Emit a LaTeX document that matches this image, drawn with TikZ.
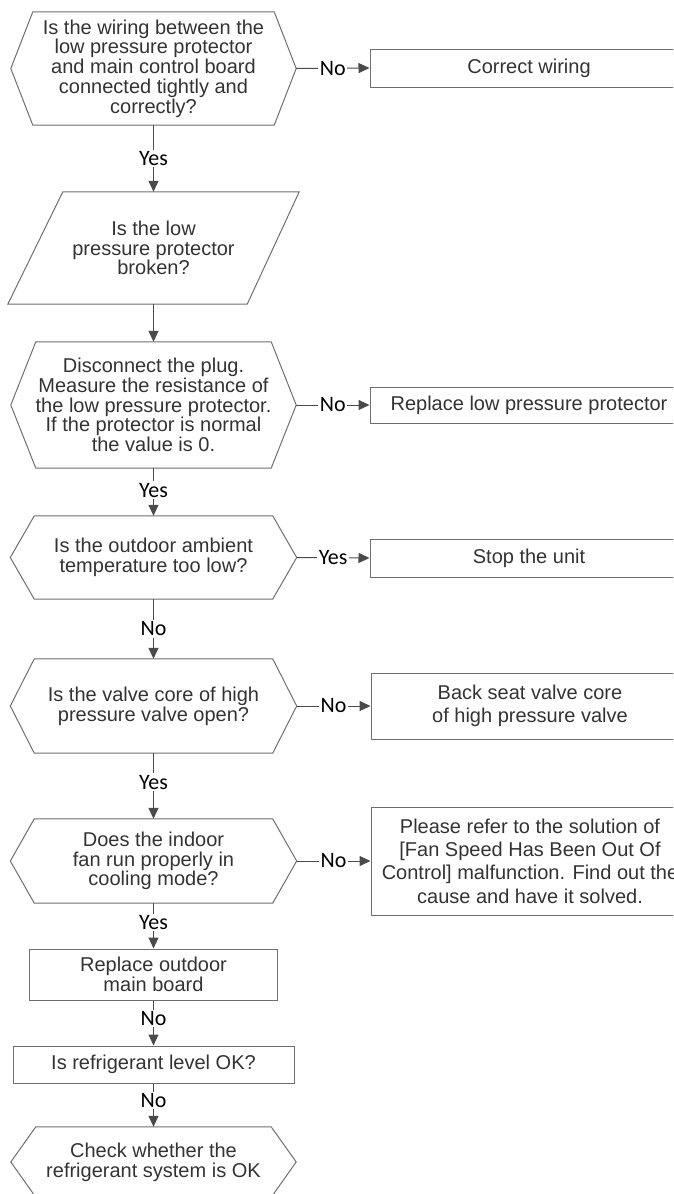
\documentclass[tikz,border=0pt]{standalone}
\usepackage{fontspec}
\setmainfont{Liberation Sans}
\newfontfamily\lblfont{Carlito}
\usepackage{tikz}
\usetikzlibrary{arrows.meta,positioning,calc}
\definecolor{fcline}{HTML}{6F6F6F}
\definecolor{fcarrow}{HTML}{4A4A4A}
\definecolor{fctext}{HTML}{333333}
\newcommand{\hexframe}[2]{%
  \draw[shapeline] (#1.west) -- ($(#1.north west)+(#2,0)$) -- ($(#1.north east)-(#2,0)$)
    -- (#1.east) -- ($(#1.south east)-(#2,0)$) -- ($(#1.south west)+(#2,0)$) -- cycle;}

\begin{document}
\begin{tikzpicture}[
  x=1pt,
  y=-1pt,
  qtext/.style={inner sep=0pt, align=center, text=fctext, font=\fontsize{20}{19.7}\selectfont},
  action/.style={qtext, draw=fcline, line width=1pt, minimum width=318pt,
    font=\fontsize{20}{23.3}\selectfont},
  shapeline/.style={draw=fcline, line width=1pt},
  arrow/.style={-{Triangle[length=11pt,width=10pt]}, line width=1pt, draw=fcarrow},
  lbl/.style={fill=white, inner sep=1.5pt, text=black, font=\lblfont\fontsize{22}{22}\selectfont}
]
\useasboundingbox (0,0) rectangle (673,1194);
\clip (0,0) rectangle (673,1194);

\node[qtext, minimum width=285pt, minimum height=113pt] (wiring) at (153.5,68.5)
  {Is the wiring between the\\low pressure protector\\and main control board\\connected tightly and\\correctly?};
\node[qtext, minimum width=291pt, minimum height=112pt] (broken) at (153.5,248)
  {Is the low\\pressure protector\\broken?};
\node[qtext, minimum width=285pt, minimum height=126pt] (measure) at (153.5,405)
  {Disconnect the plug.\\Measure the resistance of\\the low pressure protector.\\If the protector is normal\\the value is 0.};
\node[qtext, minimum width=286pt, minimum height=83pt] (ambient) at (153.5,557.5)
  {Is the outdoor ambient\\temperature too low?};
\node[qtext, minimum width=286pt, minimum height=94pt] (valve) at (153.5,706)
  {Is the valve core of high\\pressure valve open?};
\node[qtext, minimum width=286pt, minimum height=84pt] (indoorfan) at (153.5,861)
  {Does the indoor\\fan run properly in\\cooling mode?};
\node[qtext, draw=fcline, line width=1pt, minimum width=248pt, minimum height=51pt] (mainboard) at (153.5,974.5)
  {Replace outdoor\\main board};
\node[qtext, draw=fcline, line width=1pt, minimum width=281pt, minimum height=37pt] (levelok) at (153.5,1064.5)
  {Is refrigerant level OK?};
\node[qtext, minimum width=285pt, minimum height=70pt] (system) at (153.5,1162)
  {Check whether the\\refrigerant system is OK};

\node[action, minimum height=38pt] (wiringfix) at (529,68) {Correct wiring};
\node[action, minimum height=36pt] (replacelpp) at (529,405) {Replace low pressure protector};
\node[action, minimum height=38pt] (stopunit) at (529,558) {Stop the unit};
\node[action, minimum height=66pt] (backseat) at (530,706) {Back seat valve core\\of high pressure valve};
\node[action, minimum height=108pt] (fanspeed) at (530,861)
  {Please refer to the solution of\\{[}Fan Speed Has Been Out Of\\Control] malfunction. Find out the\\cause and have it solved.};

\hexframe{wiring}{22}
\draw[shapeline] ($(broken.north west)+(55,0)$) -- (broken.north east)
  -- ($(broken.south east)-(52,0)$) -- (broken.south west) -- cycle;
\hexframe{measure}{25}
\hexframe{ambient}{24}
\hexframe{valve}{24}
\hexframe{indoorfan}{24}
\hexframe{system}{25}

\draw[arrow] (wiring.south) -- node[lbl] {Yes} (broken.north);
\draw[arrow] (broken.south) -- (measure.north);
\draw[arrow] (measure.south) -- node[lbl, pos=0.46] {Yes} (ambient.north);
\draw[arrow] (ambient.south) -- node[lbl] {No} (valve.north);
\draw[arrow] (valve.south) -- node[lbl, pos=0.44] {Yes} (indoorfan.north);
\draw[arrow] (indoorfan.south) -- node[lbl, pos=0.43] {Yes} (mainboard.north);
\draw[arrow] (mainboard.south) -- node[lbl, pos=0.4] {No} (levelok.north);
\draw[arrow] (levelok.south) -- node[lbl, pos=0.4] {No} (system.north);

\draw[arrow] (wiring.east) -- node[lbl] {No} (wiringfix.west);
\draw[arrow] (measure.east) -- node[lbl] {No} (replacelpp.west);
\draw[arrow] (ambient.east) -- node[lbl] {Yes} (stopunit.west);
\draw[arrow] (valve.east) -- node[lbl] {No} (backseat.west);
\draw[arrow] (indoorfan.east) -- node[lbl] {No} (fanspeed.west);
\end{tikzpicture}
\end{document}
